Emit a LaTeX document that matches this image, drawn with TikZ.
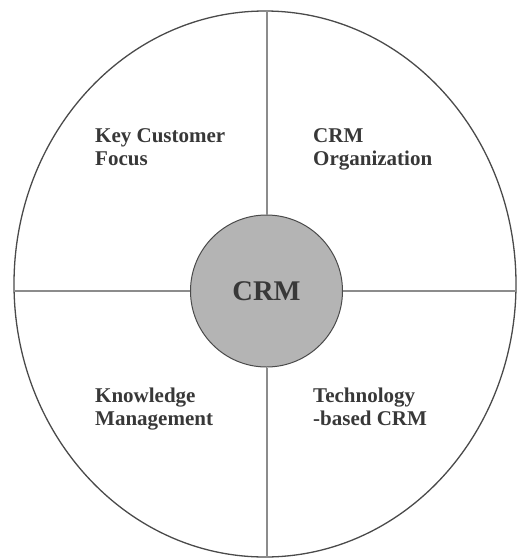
\documentclass[tikz,border=0pt]{standalone}
\usepackage{fontspec}
\setmainfont{Liberation Serif}
\usetikzlibrary{shapes.geometric}
\definecolor{rimgray}{HTML}{4A4A4A}
\definecolor{spokegray}{HTML}{8C8C8C}
\definecolor{hubfill}{HTML}{B4B4B4}
\definecolor{textgray}{HTML}{383838}

\begin{document}
\begin{tikzpicture}[x=1pt, y=-1pt,
    quadtext/.style={anchor=base west, align=left, inner sep=0pt, text=textgray,
        font=\fontsize{21}{23}\selectfont\bfseries},
    spoke/.style={draw=spokegray, line width=2pt}]
    \useasboundingbox (0,0) rectangle (517,558);
    % outer ring and hub
    \node[draw=rimgray, line width=1.3pt, ellipse, minimum width=502pt, minimum height=546pt, inner sep=0pt] (rim) at (265,284) {};
    \node[circle, draw=rimgray, line width=1pt, fill=hubfill, minimum size=152pt, inner sep=0pt, text=textgray,
        font=\fontsize{28.5}{30}\selectfont\bfseries] (crm) at (266.5,291) {CRM};

    % spokes
    \draw[spoke] (crm.north) -- (crm.north |- rim.north);
    \draw[spoke] (crm.south) -- (crm.south |- rim.south);
    \draw[spoke] (crm.west) -- (rim.west |- crm.west);
    \draw[spoke] (crm.east) -- (rim.east |- crm.east);

    % quadrant labels (base = last line)
    \node[quadtext] (focus) at (95,165) {Key Customer\\Focus};
    \node[quadtext] (org) at (313,165) {CRM\\Organization};
    \node[quadtext] (know) at (95,425) {Knowledge\\Management};
    \node[quadtext] (tech) at (313,425) {Technology\\-based CRM};
\end{tikzpicture}
\end{document}
